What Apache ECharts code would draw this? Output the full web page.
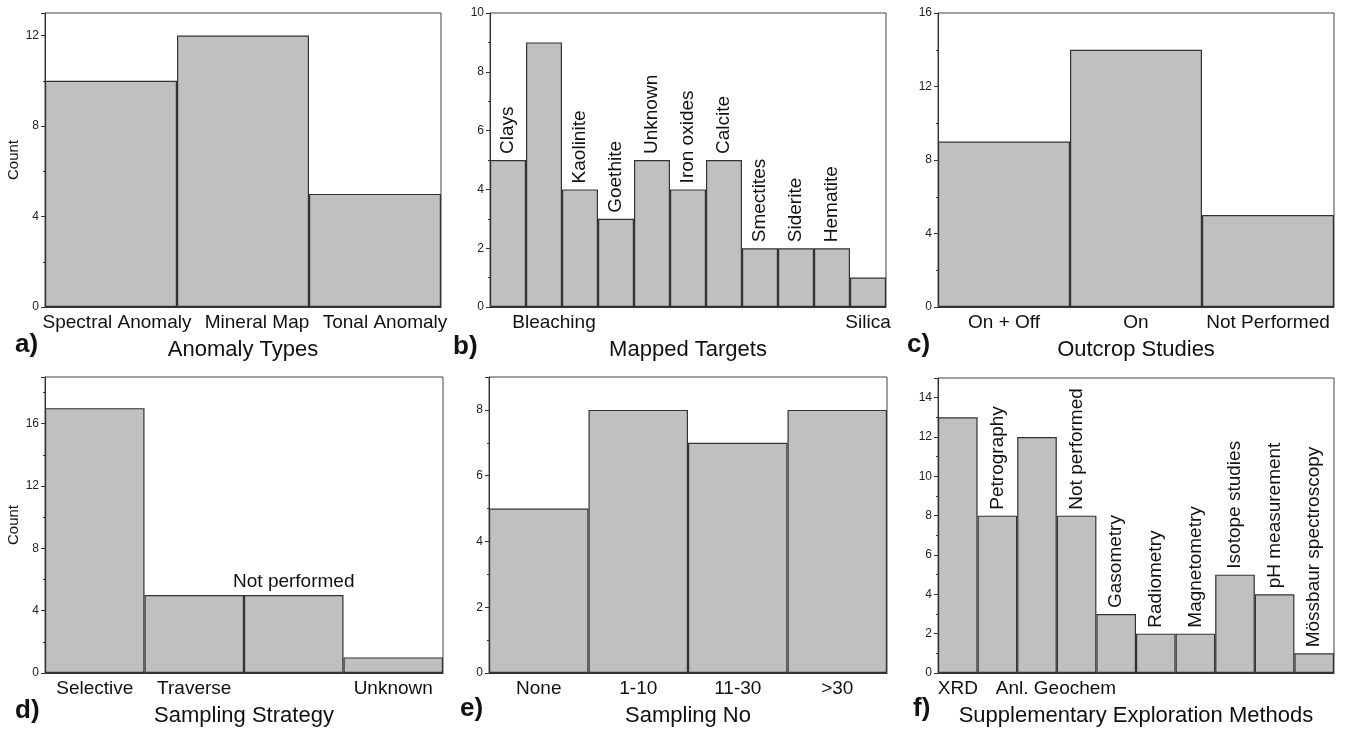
<!DOCTYPE html>
<html>
<head>
<meta charset="utf-8">
<script src="https://cdn.jsdelivr.net/npm/echarts@6/dist/echarts.min.js"></script>
<style>
html,body{margin:0;padding:0;background:#fff;}
#chart{width:1355px;height:731px;}
</style>
</head>
<body>
<div id="chart"></div>
<script>
// ---- data ----
const aCategories = ['Spectral Anomaly', 'Mineral Map', 'Tonal Anomaly'];
const aValues = [10, 12, 5];
const bCategories = ['Clays', 'Bleaching', 'Kaolinite', 'Goethite', 'Unknown', 'Iron oxides', 'Calcite', 'Smectites', 'Siderite', 'Hematite', 'Silica'];
const bValues = [5, 9, 4, 3, 5, 4, 5, 2, 2, 2, 1];
const cCategories = ['On + Off', 'On', 'Not Performed'];
const cValues = [9, 14, 5];
const dCategories = ['Selective', 'Traverse', 'Not performed', 'Unknown'];
const dValues = [17, 5, 5, 1];
const eCategories = ['None', '1-10', '11-30', '>30'];
const eValues = [5, 8, 7, 8];
const fCategories = ['XRD', 'Petrography', 'Anl. Geochem', 'Not performed', 'Gasometry', 'Radiometry', 'Magnetometry', 'Isotope studies', 'pH measurement', 'Mössbaur spectroscopy'];
const fValues = [13, 8, 12, 8, 3, 2, 2, 5, 4, 1];

const aTickLabels = [0, 4, 8, 12];
const bTickLabels = [0, 2, 4, 6, 8, 10];
const cTickLabels = [0, 4, 8, 12, 16];
const dTickLabels = [0, 4, 8, 12, 16];
const eTickLabels = [0, 2, 4, 6, 8];
const fTickLabels = [0, 2, 4, 6, 8, 10, 12, 14];

const aTitle = 'Anomaly Types';
const bTitle = 'Mapped Targets';
const cTitle = 'Outcrop Studies';
const dTitle = 'Sampling Strategy';
const eTitle = 'Sampling No';
const fTitle = 'Supplementary Exploration Methods';

// categories whose name is written on top of the bar instead of under the axis
const bOnBar = ['Clays', 'Kaolinite', 'Goethite', 'Unknown', 'Iron oxides', 'Calcite', 'Smectites', 'Siderite', 'Hematite'];
const dOnBar = ['Not performed'];
const fOnBar = ['Petrography', 'Not performed', 'Gasometry', 'Radiometry', 'Magnetometry', 'Isotope studies', 'pH measurement', 'Mössbaur spectroscopy'];

// ---- layout ----
const FONT = 'Liberation Sans, Arial, sans-serif';
// horizontal nudge (px) of some under-axis labels, to mimic the original placement
const labelNudge = {'Spectral Anomaly': 6, 'Mineral Map': 14, 'Tonal Anomaly': 10, 'Bleaching': 10, 'Anl. Geochem': 19};
const richNudge = {};
Object.keys(labelNudge).forEach(k => {
  const n = labelNudge[k];
  richNudge['s' + n] = {fontFamily: FONT, fontSize: 19, color: '#111', padding: [0, 0, 0, 2 * n]};
});

const panels = [
  {cats: aCategories, vals: aValues, ticks: aTickLabels, max: 13, interval: 4, title: aTitle, yName: 'Count', onBar: [], rot: true,
   grid: {left: 45, top: 13, width: 396, height: 294}, letter: 'a)', lx: 15, ly: 346},
  {cats: bCategories, vals: bValues, ticks: bTickLabels, max: 10, interval: 2, title: bTitle, yName: '', onBar: bOnBar, rot: true,
   grid: {left: 490, top: 13, width: 396, height: 294}, letter: 'b)', lx: 453, ly: 348},
  {cats: cCategories, vals: cValues, ticks: cTickLabels, max: 16, interval: 4, title: cTitle, yName: '', onBar: [], rot: true,
   grid: {left: 938, top: 13, width: 396, height: 294}, letter: 'c)', lx: 907, ly: 346},
  {cats: dCategories, vals: dValues, ticks: dTickLabels, max: 19, interval: 4, title: dTitle, yName: 'Count', onBar: dOnBar, rot: false,
   grid: {left: 45, top: 377, width: 398, height: 296}, letter: 'd)', lx: 15, ly: 712},
  {cats: eCategories, vals: eValues, ticks: eTickLabels, max: 9, interval: 2, title: eTitle, yName: '', onBar: [], rot: true,
   grid: {left: 489, top: 377, width: 398, height: 296}, letter: 'e)', lx: 460, ly: 710},
  {cats: fCategories, vals: fValues, ticks: fTickLabels, max: 15, interval: 2, title: fTitle, yName: '', onBar: fOnBar, rot: true,
   grid: {left: 938, top: 378, width: 396, height: 295}, letter: 'f)', lx: 913, ly: 710}
];

const grids = [], xAxes = [], yAxes = [], series = [], graphics = [];
panels.forEach((p, i) => {
  grids.push(Object.assign({show: true, borderColor: '#444', borderWidth: 1, backgroundColor: 'transparent', containLabel: false}, p.grid));
  xAxes.push({
    type: 'category', gridIndex: i, data: p.cats,
    name: p.title, nameLocation: 'middle', nameGap: 32,
    nameTextStyle: {fontFamily: FONT, fontSize: 22, color: '#111'},
    axisLine: {show: true, lineStyle: {color: '#333', width: 1}},
    axisTick: {show: false},
    axisLabel: {
      interval: 0, hideOverlap: false, margin: 6,
      fontFamily: FONT, fontSize: 19, color: '#111',
      formatter: (name) => {
        if (p.onBar.indexOf(name) >= 0) return '';
        const n = labelNudge[name];
        return n ? '{s' + n + '|' + name + '}' : name;
      },
      rich: richNudge
    },
    splitLine: {show: false}
  });
  yAxes.push({
    type: 'value', gridIndex: i, min: 0, max: p.max, interval: p.interval,
    name: p.yName, nameLocation: 'middle', nameGap: 22, nameRotate: 90,
    nameTextStyle: {fontFamily: FONT, fontSize: 15, color: '#111'},
    axisLine: {show: true, lineStyle: {color: '#333', width: 1}},
    axisTick: {show: true, length: 4, inside: false, lineStyle: {color: '#333'}},
    minorTick: {show: true, splitNumber: 2, length: 2, lineStyle: {color: '#333'}},
    axisLabel: {
      fontFamily: FONT, fontSize: 12, color: '#222', margin: 6,
      formatter: (v) => p.ticks.indexOf(v) >= 0 ? String(v) : ''
    },
    splitLine: {show: false}
  });
  const labelCfg = p.rot
    ? {position: 'top', rotate: 90, align: 'left', verticalAlign: 'middle', distance: 6}
    : {position: 'top', rotate: 0, align: 'center', verticalAlign: 'bottom', distance: 4};
  series.push({
    type: 'bar', xAxisIndex: i, yAxisIndex: i,
    barCategoryGap: '0%', barGap: '0%',
    itemStyle: {color: '#c0c0c0', borderColor: '#333', borderWidth: 1.2},
    label: Object.assign({show: false, formatter: '{b}', fontFamily: FONT, fontSize: 19, color: '#111'}, labelCfg),
    emphasis: {disabled: true},
    animation: false,
    data: p.vals.map((v, k) => ({value: v, label: {show: p.onBar.indexOf(p.cats[k]) >= 0}}))
  });
  graphics.push({
    type: 'text', left: p.lx, top: p.ly - 14,
    style: {text: p.letter, font: 'bold 26px ' + FONT, fill: '#111'}
  });
});

const chart = echarts.init(document.getElementById('chart'), null, {renderer: 'canvas'});
chart.setOption({
  animation: false,
  grid: grids, xAxis: xAxes, yAxis: yAxes, series: series, graphic: graphics
});
</script>
</body>
</html>
